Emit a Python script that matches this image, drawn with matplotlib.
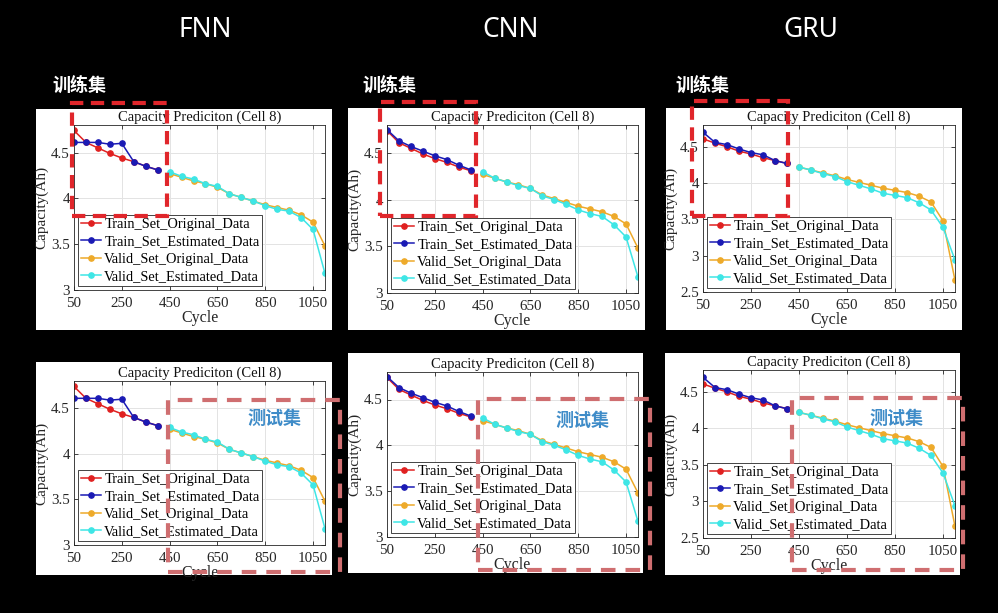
import matplotlib
matplotlib.use('Agg')
import matplotlib.pyplot as plt
from matplotlib.patches import Rectangle

# data
train_cycles = [50, 100, 150, 200, 250, 300, 350, 400]
valid_cycles = [450, 500, 550, 600, 650, 700, 750, 800, 850, 900, 950, 1000, 1050, 1100]

train_orig = [4.74, 4.61, 4.55, 4.49, 4.44, 4.40, 4.35, 4.31]
valid_orig = [4.27, 4.23, 4.19, 4.16, 4.12, 4.05, 4.01, 3.97, 3.93, 3.90, 3.87, 3.82, 3.74, 3.48]

fnn_train_est = [4.61, 4.61, 4.61, 4.59, 4.60, 4.40, 4.35, 4.31]
fnn_valid_est = [4.29, 4.24, 4.21, 4.16, 4.13, 4.05, 4.01, 3.97, 3.92, 3.88, 3.86, 3.79, 3.66, 3.18]

cnn_train_est = [4.75, 4.63, 4.57, 4.52, 4.47, 4.43, 4.37, 4.32]
cnn_valid_est = [4.30, 4.23, 4.19, 4.15, 4.12, 4.04, 4.00, 3.95, 3.89, 3.85, 3.82, 3.73, 3.60, 3.17]

gru_train_orig = [4.61, 4.55, 4.50, 4.44, 4.40, 4.35, 4.31, 4.27]
gru_valid_orig = [4.22, 4.18, 4.14, 4.10, 4.05, 4.01, 3.97, 3.93, 3.90, 3.87, 3.82, 3.74, 3.48, 2.66]
gru_train_est = [4.70, 4.56, 4.53, 4.47, 4.42, 4.39, 4.31, 4.27]
gru_valid_est = [4.22, 4.18, 4.13, 4.09, 4.02, 3.97, 3.92, 3.86, 3.83, 3.80, 3.73, 3.63, 3.39, 2.94]

models = ['FNN', 'CNN', 'GRU']
series_labels = ['Train_Set_Original_Data', 'Train_Set_Estimated_Data',
                 'Valid_Set_Original_Data', 'Valid_Set_Estimated_Data']
x_ticks = [50, 250, 450, 650, 850, 1050]

W, H = 998, 613
plt.rcParams['font.family'] = ['Liberation Serif', 'DejaVu Serif']
fig = plt.figure(figsize=(W / 100, H / 100), dpi=100, facecolor='black')


def box(x0, y0, x1, y1):
    return [x0 / W, 1 - y1 / H, (x1 - x0) / W, (y1 - y0) / H]


def white_panel(x0, y0, x1, y1):
    r = Rectangle((x0 / W, 1 - y1 / H), (x1 - x0) / W, (y1 - y0) / H,
                  transform=fig.transFigure, facecolor='white', edgecolor='none', zorder=-5)
    fig.add_artist(r)


def dashed(x0, y0, x1, y1, color, dash):
    r = Rectangle((x0 / W, 1 - y1 / H), (x1 - x0) / W, (y1 - y0) / H,
                  transform=fig.transFigure, fill=False, edgecolor=color,
                  linewidth=3.0, linestyle=(0, dash), zorder=20)
    fig.add_artist(r)


def draw(ax, tr_o, tr_e, va_o, va_e, ylo, yticks):
    ax.plot(train_cycles, tr_o, '-o', color='#e02020', ms=3.8, lw=1.1, label=series_labels[0])
    ax.plot(train_cycles, tr_e, '-o', color='#1a1ab4', ms=3.8, lw=1.1, label=series_labels[1])
    ax.plot(valid_cycles, va_o, '-o', color='#eeaa2a', ms=3.8, lw=1.1, label=series_labels[2])
    ax.plot(valid_cycles, va_e, '-o', color='#3ee6e6', ms=3.8, lw=1.1, label=series_labels[3])
    ax.set_xlim(50, 1100)
    ax.set_ylim(ylo, 4.8)
    ax.set_xticks(x_ticks)
    ax.set_yticks(yticks)
    ax.set_yticklabels([('%g' % t) for t in yticks])
    ax.tick_params(direction='in', labelsize=10.8, length=3, width=0.6, colors='#262626',
                   top=True, right=True)
    ax.tick_params(axis='x', pad=5)
    ax.tick_params(axis='y', pad=3)
    ax.grid(True, color='#e3e3e3', lw=0.7)
    ax.set_axisbelow(True)
    for s in ax.spines.values():
        s.set_color('#262626')
        s.set_linewidth(0.6)
    ax.set_title('Capacity Prediciton (Cell 8)', fontsize=10.5, pad=3, color='#111111')
    ax.set_xlabel('Cycle', fontsize=11.5, labelpad=0, color='#262626')
    ax.set_ylabel('Capacity(Ah)', fontsize=11, labelpad=2, color='#262626')
    ax.legend(loc='lower left', fontsize=10.4, frameon=True, fancybox=False, edgecolor='#262626',
              handlelength=1.4, handletextpad=0.2, labelspacing=0.28, borderpad=0.2,
              borderaxespad=0.3, framealpha=1).get_frame().set_linewidth(0.6)


# white panel rectangles (pixels)
panels = [(36, 109, 332, 330), (348, 108, 645, 330), (666, 108, 962, 330),
          (36, 362, 332, 575), (348, 353, 643, 573), (665, 353, 960, 575)]
axes_pos = [(74, 125, 325, 290), (387, 125, 638, 293), (703, 125, 955, 292),
            (74, 381, 325, 545), (387, 372, 638, 537), (703, 370, 955, 538)]

data = [(train_orig, fnn_train_est, valid_orig, fnn_valid_est, 3.0, [3, 3.5, 4, 4.5]),
        (train_orig, cnn_train_est, valid_orig, cnn_valid_est, 3.0, [3, 3.5, 4, 4.5]),
        (gru_train_orig, gru_train_est, gru_valid_orig, gru_valid_est, 2.5, [2.5, 3, 3.5, 4, 4.5])]

for i in range(6):
    white_panel(*panels[i])
    ax = fig.add_axes(box(*axes_pos[i]))
    draw(ax, *data[i % 3])

# model names
for name, cx in zip(models, [205, 511, 811]):
    fig.text(cx / W, 1 - 30 / H, name, color='white', fontsize=19, ha='center', va='center',
             family=['Noto Sans', 'DejaVu Sans'], fontweight='medium')

# training-set tags and red boxes
for x0 in [52, 362, 675]:
    fig.text(x0 / W, 1 - 85 / H, '训练集', color='white', fontsize=13, ha='left', va='center',
             family=['Noto Sans CJK SC', 'DejaVu Sans'], fontweight='bold')
red = '#e0262b'
dashed(72, 103, 167, 216, red, (3.2, 1.8))
dashed(380, 102, 476, 216, red, (3.2, 1.8))
dashed(692, 101, 788, 216, red, (3.2, 1.8))

# test-set tags and pink boxes
pink = '#cf6e70'
dashed(168, 400, 340, 572, pink, (3.5, 2.4))
dashed(478, 399, 650, 570, pink, (3.5, 2.4))
dashed(792, 398, 963, 570, pink, (3.5, 2.4))
for x0, yc in [(248, 418), (555, 420), (869, 418)]:
    fig.text(x0 / W, 1 - yc / H, '测试集', color='#3f8cc8', fontsize=13, ha='left', va='center',
             family=['Noto Sans CJK SC', 'DejaVu Sans'], fontweight='bold')

fig.savefig('out.png', dpi=100, facecolor='black')
